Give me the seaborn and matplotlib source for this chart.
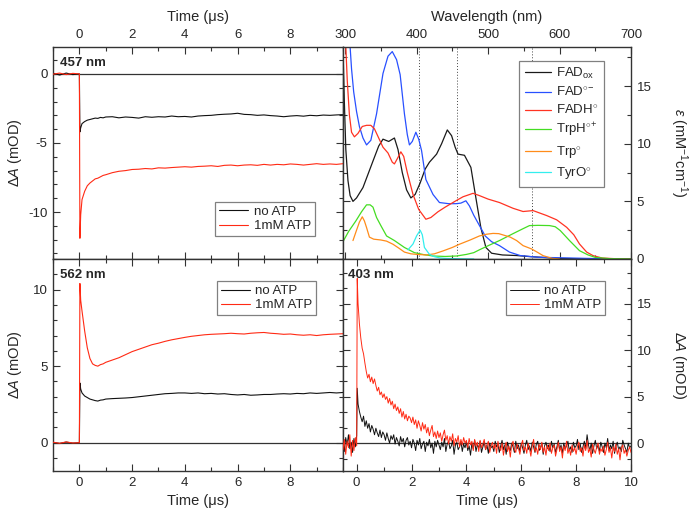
import matplotlib
matplotlib.use('Agg')
import matplotlib.pyplot as plt
import seaborn as sns
import numpy as np
from matplotlib.ticker import MultipleLocator

sns.set_style('ticks')
plt.rcParams['font.family'] = ['Liberation Sans', 'DejaVu Sans']
plt.rcParams['mathtext.fontset'] = 'custom'
plt.rcParams['mathtext.rm'] = 'Liberation Sans'
plt.rcParams['mathtext.it'] = 'Liberation Sans:italic'
plt.rcParams['mathtext.bf'] = 'Liberation Sans:bold'
plt.rcParams['axes.unicode_minus'] = False

# %%
# time grids (microseconds)
t_kin = np.concatenate([np.arange(-1.0, 0.01, 0.25), [0.02, 0.05],
                        np.arange(0.1, 1.01, 0.1), np.arange(1.25, 10.01, 0.25)])
t_403 = np.round(np.concatenate([np.arange(-0.5, 0.001, 0.05), [0.02, 0.05],
                                 np.arange(0.1, 10.001, 0.05)]), 2)

# 457 nm transients (mOD)
a457_noatp = [0.05, -0.08, 0.06, -0.05, 0.0, -4.2, -3.9,
              -3.6, -3.45, -3.35, -3.3, -3.25, -3.2, -3.22, -3.15, -3.18, -3.12,
              -3.1, -3.18, -3.12, -3.15, -3.2, -3.1, -3.14, -3.1, -3.12, -3.05,
              -3.1, -3.08, -3.12, -3.05, -3.02, -3.0, -2.95, -2.92, -2.9, -2.85,
              -2.93, -2.95, -3.0, -2.97, -3.02, -3.05, -3.1, -3.05, -3.02, -3.06,
              -3.0, -3.03, -2.98, -3.0, -2.97, -2.95]
a457_atp = [-0.02, 0.06, -0.05, 0.04, 0.0, -11.9, -10.2,
            -9.1, -8.5, -8.1, -7.9, -7.75, -7.6, -7.55, -7.45, -7.35, -7.3,
            -7.15, -7.05, -7.0, -6.92, -6.9, -6.85, -6.88, -6.8, -6.82, -6.78,
            -6.75, -6.72, -6.75, -6.7, -6.68, -6.65, -6.7, -6.62, -6.6, -6.65,
            -6.6, -6.58, -6.62, -6.55, -6.6, -6.55, -6.58, -6.52, -6.55, -6.6,
            -6.55, -6.5, -6.55, -6.52, -6.55, -6.5]

# 562 nm transients (mOD)
a562_noatp = [0.02, -0.05, 0.04, -0.03, 0.0, 3.9, 3.5,
              3.25, 3.05, 2.95, 2.85, 2.8, 2.75, 2.72, 2.78, 2.8, 2.85,
              2.88, 2.9, 2.92, 2.95, 3.0, 3.05, 3.1, 3.15, 3.2, 3.22,
              3.25, 3.25, 3.22, 3.25, 3.2, 3.22, 3.18, 3.2, 3.15, 3.12,
              3.15, 3.1, 3.12, 3.15, 3.15, 3.18, 3.2, 3.18, 3.22, 3.2,
              3.25, 3.22, 3.25, 3.28, 3.25, 3.28]
a562_atp = [0.03, -0.04, 0.05, -0.02, 0.0, 10.4, 9.3,
            8.6, 7.3, 6.2, 5.5, 5.15, 5.05, 5.0, 5.1, 5.15, 5.25,
            5.4, 5.55, 5.75, 5.95, 6.1, 6.25, 6.4, 6.5, 6.62, 6.72,
            6.8, 6.88, 6.95, 7.0, 7.05, 7.08, 7.1, 7.12, 7.15, 7.12,
            7.1, 7.15, 7.18, 7.2, 7.15, 7.12, 7.08, 7.1, 7.05, 7.02,
            7.05, 7.0, 7.05, 7.08, 7.1, 7.12]

# 403 nm transients (mOD), one row per microsecond after the flash
a403_noatp = [0.3, -0.9, 0.6, -0.2, 0.9, -0.6, 0.1, -1.0, 0.5, -0.4, 0.8,
              5.9, 4.2,
              3.4, 2.8, 2.3, 2.9, 1.8, 2.4, 1.6, 2.1, 1.2, 1.9, 1.5, 0.9, 1.6, 1.1, 0.7, 1.4, 0.6, 1.2,
              0.9, 0.3, 1.1, 0.5, 0.0, 0.8, 0.4, 0.9, -0.1, 0.6, 0.2, -0.3, 0.7, 0.1, 0.5, -0.4, 0.3, 0.6, -0.2, 0.2,
              -0.5, 0.4, 0.0, -0.8, 0.3, -0.2, 0.5, -0.6, -0.1, 0.2, -0.9, 0.1, -0.3, 0.4, -0.5, 0.0, -1.1, 0.2, -0.4, 0.3,
              -0.2, -0.7, 0.1, -0.4, 0.5, -0.9, -0.1, 0.2, -0.6, -0.3, 0.3, -1.2, -0.2, 0.1, -0.7, -0.4, 0.2, -0.9, -0.1, -0.5,
              0.1, -0.8, -0.3, -1.3, 0.0, -0.6, 0.3, -0.9, -0.2, -0.5, 0.2, -1.0, -0.4, 0.1, -0.7, -0.2, -1.1, 0.0, -0.5, -0.3,
              -0.9, 0.2, -0.4, -0.1, -1.0, -0.3, 0.3, -0.7, -0.2, -1.2, 0.1, -0.5, -0.8, 0.0, -0.4, -1.0, 0.2, -0.6, -0.2, -0.9,
              0.0, -0.5, -1.1, -0.2, 0.3, -0.7, -0.3, -0.9, 0.1, -0.4, -1.0, -0.1, 0.2, -0.8, -0.5, 0.0, -1.2, -0.3, 0.1, -0.6,
              -0.2, -0.9, 0.2, -0.5, -0.1, -1.0, -0.4, 0.3, -0.7, -0.2, -1.1, 0.0, -0.6, -0.3, 0.2, -0.8, -0.4, -1.0, 0.1, -0.5,
              -0.3, 0.4, -0.7, -0.1, -1.0, -0.4, 0.2, -0.6, 0.9, -0.2, -0.8, 0.0, -1.1, -0.3, 0.3, -0.6, -0.2, -0.9, 0.1, -0.4,
              -1.0, 0.0, -0.5, 0.5, -0.8, -0.2, -0.6, 0.2, -1.1, -0.3, 0.1, -0.7, -0.4, -0.9, 0.3, -0.2, -0.6, -1.0, 0.0, -0.5,
              -0.3]
a403_atp = [-0.7, 0.4, -1.2, 0.2, -0.5, 0.9, -1.4, 0.3, -0.8, 0.6, -0.3,
            17.7, 15.0,
            12.8, 11.3, 10.2, 9.6, 8.6, 7.7, 7.0, 7.4, 6.6, 7.1, 6.4, 6.9, 6.2, 5.6, 6.0, 5.2, 5.5, 4.9,
            5.3, 4.7, 5.0, 4.3, 4.8, 4.1, 4.5, 3.7, 4.2, 3.5, 3.9, 3.2, 3.7, 2.8, 3.4, 2.6, 3.1, 2.4, 2.9, 2.7,
            2.2, 2.8, 2.0, 2.5, 1.6, 2.4, 1.9, 1.3, 2.2, 1.5, 2.0, 1.1, 1.7, 0.8, 1.4, 1.9, 0.7, 1.2, 0.5, 1.3,
            0.6, 1.1, 0.2, 0.9, 1.4, 0.3, 0.8, -0.1, 0.7, 0.2, 1.0, -0.3, 0.5, 0.1, 0.8, -0.4, 0.4, -0.2, 0.6, 0.0,
            0.3, -0.5, 0.5, -0.2, 0.2, -0.8, 0.4, -0.3, 0.1, -0.9, 0.3, -0.5, -0.1, 0.4, -0.7, -0.2, 0.2, -1.0, -0.3, 0.1,
            -0.6, -0.1, -1.1, 0.2, -0.5, -0.8, 0.0, -1.3, -0.4, 0.1, -0.9, -0.3, -1.5, -0.2, 0.2, -0.7, -1.0, -0.1, -0.6, -1.2,
            -0.2, 0.3, -0.8, -0.4, -1.1, 0.0, -0.6, -1.4, -0.3, 0.4, -0.9, -0.5, -1.2, -0.1, -0.7, 0.1, -1.0, -0.4, -1.3, -0.2,
            -0.8, 0.0, -1.1, -0.5, -0.2, -1.4, -0.7, 0.1, -0.9, -0.4, -1.6, -0.3, -0.8, 0.2, -1.1, -0.6, -1.3, -0.2, -0.9, -0.5,
            -1.2, -0.3, 0.1, -0.9, -0.5, -1.4, -0.2, -0.8, 0.3, -1.0, -0.6, -1.5, -0.1, -0.7, -1.1, -0.4, 0.0, -1.2, -0.6, -0.9,
            -0.3, -1.3, -0.7, 0.1, -1.0, -0.5, -1.6, -0.4, -0.9, -0.1, -1.2, -0.6, -1.8, -0.5, -0.2, -1.1, -0.7, -1.4, -0.8, -0.4,
            -1.0]

# %%
# absorption spectra (epsilon in mM^-1 cm^-1)
wl_fadox = [297, 299, 301, 304, 307, 311, 316, 325, 339, 347, 353, 361, 369, 374, 380,
            386, 392, 398, 405, 412, 418, 428, 435, 443, 449, 454, 458, 467, 476, 483,
            490, 497, 505, 520, 540, 560, 600, 650, 700]
eps_fadox = [18.4, 13.5, 9.5, 6.8, 5.5, 5.0, 5.3, 6.2, 8.5, 9.8, 10.4, 10.2, 10.5, 9.5, 7.5,
             6.0, 5.3, 5.6, 6.6, 7.8, 8.4, 9.1, 10.0, 11.2, 10.7, 9.7, 9.1, 9.0, 7.95, 5.3,
             2.7, 1.0, 0.5, 0.35, 0.3, 0.2, 0.05, 0.0, 0.0]

wl_fadsq = [307, 309, 312, 316, 320, 325, 330, 336, 344, 353, 360, 366, 372, 377, 383,
            387, 390, 394, 399, 403, 407, 413, 423, 432, 445, 455, 462, 469, 474, 480,
            488, 496, 505, 516, 530, 545, 570, 620, 660, 700]
eps_fadsq = [18.4, 16.5, 14.5, 12.8, 11.5, 10.5, 9.9, 10.3, 12.6, 16.1, 17.6, 18.0, 17.3, 16.0, 12.6,
             10.8, 9.9, 10.2, 11.0, 10.4, 9.4, 6.9, 5.6, 4.9, 4.8, 4.8, 4.85, 5.05, 4.6, 3.8,
             2.9, 2.0, 1.5, 1.16, 0.6, 0.3, 0.15, 0.08, 0.02, 0.0]

wl_fadh = [301, 303, 306, 309, 313, 318, 324, 330, 336, 341, 347, 353, 360, 366, 369,
           373, 378, 382, 387, 395, 403, 413, 420, 430, 440, 455, 465, 479, 488, 500,
           516, 535, 549, 563, 582, 596, 610, 620, 628, 638, 647, 660, 680, 700]
eps_fadh = [18.4, 15.5, 12.5, 11.0, 10.6, 10.9, 11.5, 11.6, 11.6, 11.3, 10.5, 9.7, 9.2, 8.4, 8.25,
            8.7, 9.3, 8.9, 7.5, 5.6, 4.3, 3.45, 3.6, 4.1, 4.5, 5.05, 5.4, 5.7, 5.5, 5.2,
            4.9, 4.4, 4.12, 4.2, 3.77, 3.4, 2.75, 2.1, 1.3, 0.6, 0.29, 0.08, 0.02, 0.0]

wl_trph = [297, 305, 315, 323, 330, 335, 339, 344, 350, 358, 369, 383, 397, 410, 423,
           440, 456, 470, 480, 488, 500, 516, 535, 548, 558, 570, 586, 594, 601, 614,
           628, 640, 650, 670, 700]
eps_trph = [1.5, 2.4, 3.3, 4.1, 4.7, 4.7, 4.5, 3.6, 2.9, 2.0, 1.6, 1.0, 0.55, 0.38, 0.26,
            0.22, 0.26, 0.4, 0.55, 0.8, 1.15, 1.6, 2.2, 2.6, 2.9, 2.92, 2.9, 2.8, 2.47, 1.6,
            0.72, 0.35, 0.14, 0.03, 0.0]

wl_trp = [311, 316, 320, 324, 327, 330, 334, 340, 350, 358, 367, 375, 383, 392, 400,
          414, 425, 437, 450, 460, 475, 488, 498, 507, 515, 523, 531, 540, 549, 561,
          570, 577, 590, 600]
eps_trp = [1.6, 2.5, 3.2, 3.66, 3.3, 2.73, 1.9, 1.72, 1.65, 1.55, 1.28, 0.95, 0.6, 0.45, 0.4,
           0.35, 0.45, 0.7, 1.0, 1.28, 1.65, 2.0, 2.15, 2.22, 2.2, 2.05, 1.9, 1.6, 1.16, 0.87,
           0.55, 0.29, 0.05, 0.0]

wl_tyro = [388, 395, 400, 405, 408, 411, 418, 425, 432, 440, 460, 480]
eps_tyro = [0.8, 1.3, 2.0, 2.5, 2.1, 1.0, 0.4, 0.2, 0.1, 0.05, 0.02, 0.0]

probe_wl = [403, 457, 562]

# %%
c_black = '#111111'
c_red = '#ff2a14'
line_col = '#333333'

fig = plt.figure(figsize=(6.93, 5.15), dpi=100)
ax_a = fig.add_axes([0.0765, 0.4971, 0.4185, 0.4117])
ax_b = fig.add_axes([0.4949, 0.4971, 0.4156, 0.4117])
ax_c = fig.add_axes([0.0765, 0.0854, 0.4185, 0.4117])
ax_d = fig.add_axes([0.4949, 0.0854, 0.4156, 0.4117])


def style_axis(ax):
    for sp in ax.spines.values():
        sp.set_color(line_col)
        sp.set_linewidth(1.0)
    ax.tick_params(which='both', direction='in', top=True, bottom=True,
                   left=True, right=True, color=line_col, width=0.8,
                   labelsize=9.5, pad=4)
    ax.tick_params(which='major', length=5)
    ax.tick_params(which='minor', length=3)


def kinetics(ax, t, y1, y2, tag, lw=0.8):
    ax.axhline(0, color=line_col, lw=0.9, zorder=1)
    sns.lineplot(x=t, y=y1, ax=ax, color=c_black, lw=lw, label='no ATP',
                 estimator=None, sort=False, zorder=2)
    sns.lineplot(x=t, y=y2, ax=ax, color=c_red, lw=lw, label='1mM ATP',
                 estimator=None, sort=False, zorder=3)
    ax.text(0.024, 0.955, tag, transform=ax.transAxes, fontsize=9.5,
            fontweight='bold', va='top', ha='left')
    style_axis(ax)


def kin_legend(ax, loc, anchor):
    leg = ax.legend(loc=loc, bbox_to_anchor=anchor, borderaxespad=0,
                    fancybox=False, framealpha=1, edgecolor='#808080',
                    fontsize=9.5, handlelength=2.2, labelspacing=0.15,
                    borderpad=0.3, handletextpad=0.4)
    leg.get_frame().set_linewidth(0.9)


# 457 nm (top left)
kinetics(ax_a, t_kin, a457_noatp, a457_atp, '457 nm')
ax_a.set_xlim(-1, 10)
ax_a.set_ylim(-13.4, 1.95)
ax_a.set_xticks([0, 2, 4, 6, 8])
ax_a.xaxis.set_minor_locator(MultipleLocator(1))
ax_a.yaxis.set_major_locator(MultipleLocator(5))
ax_a.yaxis.set_minor_locator(MultipleLocator(1))
ax_a.tick_params(labeltop=True, labelbottom=False)
ax_a.xaxis.set_label_position('top')
ax_a.set_xlabel('Time (μs)', fontsize=10.5, labelpad=6)
ax_a.set_ylabel(r'$\Delta A$ (mOD)', fontsize=10.5, va='center')
ax_a.yaxis.set_label_coords(-0.131, 0.5)
kin_legend(ax_a, 'lower right', (0.903, 0.108))

# 562 nm (bottom left)
kinetics(ax_c, t_kin, a562_noatp, a562_atp, '562 nm')
ax_c.set_xlim(-1, 10)
ax_c.set_ylim(-1.85, 12)
ax_c.set_xticks([0, 2, 4, 6, 8])
ax_c.xaxis.set_minor_locator(MultipleLocator(1))
ax_c.yaxis.set_major_locator(MultipleLocator(5))
ax_c.yaxis.set_minor_locator(MultipleLocator(1))
ax_c.set_xlabel('Time (μs)', fontsize=10.5, labelpad=4)
ax_c.set_ylabel(r'$\Delta A$ (mOD)', fontsize=10.5, va='center')
ax_c.yaxis.set_label_coords(-0.131, 0.5)
kin_legend(ax_c, 'upper right', (0.907, 0.896))

# 403 nm (bottom right)
kinetics(ax_d, t_403, a403_noatp, a403_atp, '403 nm', lw=0.7)
ax_d.texts[0].set_x(0.018)
ax_d.set_xlim(-0.5, 10)
ax_d.set_ylim(-3.0, 19.8)
ax_d.xaxis.set_major_locator(MultipleLocator(2))
ax_d.xaxis.set_minor_locator(MultipleLocator(1))
ax_d.yaxis.set_major_locator(MultipleLocator(5))
ax_d.yaxis.set_minor_locator(MultipleLocator(5 / 3))
ax_d.tick_params(labelleft=False, labelright=True)
ax_d.yaxis.set_label_position('right')
ax_d.set_xlabel('Time (μs)', fontsize=10.5, labelpad=4)
ax_d.set_ylabel(r'$\Delta A$ (mOD)', fontsize=10.5, rotation=270, va='center')
ax_d.yaxis.set_label_coords(1.167, 0.5)
kin_legend(ax_d, 'upper right', (0.91, 0.896))

# spectra (top right)
for w in probe_wl:
    ax_b.axvline(w, color='#444444', lw=0.7, ls=(0, (1, 2)), zorder=1)
spectra = [
    (wl_fadox, eps_fadox, '#1a1a1a', r'FAD$_{\mathrm{ox}}$'),
    (wl_fadsq, eps_fadsq, '#2850ff', r'FAD$^{\circ\!-}$'),
    (wl_fadh, eps_fadh, '#ff3322', r'FADH$^{\circ}$'),
    (wl_trph, eps_trph, '#44dd22', r'TrpH$^{\circ\!+}$'),
    (wl_trp, eps_trp, '#ff8c1a', r'Trp$^{\circ}$'),
    (wl_tyro, eps_tyro, '#33eeee', r'TyrO$^{\circ}$'),
]
for wl, eps, col, lab in spectra:
    sns.lineplot(x=wl, y=eps, ax=ax_b, color=col, lw=0.9, label=lab,
                 estimator=None, sort=False, zorder=2)
style_axis(ax_b)
ax_b.set_xlim(297, 700)
ax_b.set_ylim(0, 18.4)
ax_b.xaxis.set_major_locator(MultipleLocator(100))
ax_b.xaxis.set_minor_locator(MultipleLocator(50))
ax_b.yaxis.set_major_locator(MultipleLocator(5))
ax_b.yaxis.set_minor_locator(MultipleLocator(2.5))
ax_b.tick_params(labeltop=True, labelbottom=False, labelleft=False, labelright=True)
ax_b.xaxis.set_label_position('top')
ax_b.yaxis.set_label_position('right')
ax_b.set_xlabel('Wavelength (nm)', fontsize=10.5, labelpad=6)
ax_b.set_ylabel(r'$\varepsilon$ (mM$^{-1}$cm$^{-1}$)', fontsize=10.5,
                rotation=270, va='center')
ax_b.yaxis.set_label_coords(1.167, 0.5)
leg = ax_b.legend(loc='upper right', bbox_to_anchor=(0.906, 0.935), borderaxespad=0,
                  fancybox=False, framealpha=1, edgecolor='#808080', fontsize=9.5,
                  handlelength=2.0, labelspacing=0.32, borderpad=0.4,
                  handletextpad=0.4)
leg.get_frame().set_linewidth(0.9)

plt.savefig('out.png', dpi=100)
